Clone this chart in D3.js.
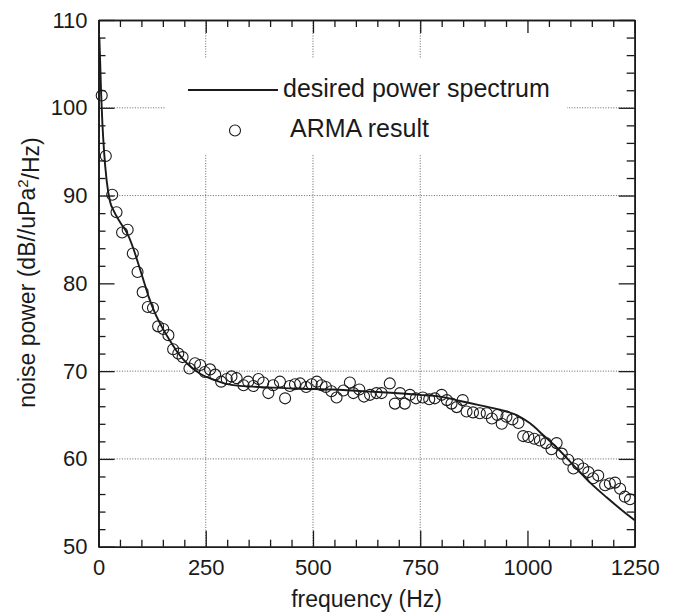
<!DOCTYPE html>
<html>
<head>
<meta charset="utf-8">
<script src="https://cdn.jsdelivr.net/npm/d3@7"></script>
<style>
  html, body { margin: 0; padding: 0; background: #fff; }
  svg { display: block; }
  text { font-family: "Liberation Sans", Arial, Helvetica, sans-serif; fill: #1a1a1a; }
</style>
</head>
<body>
<svg id="chart" width="679" height="614"></svg>
<script>
// ---- data ----
const armaFreq = [7.5,17,32,42,55,68,80,91,103,115,127,139,151,163,174,186,196,212,225,237,248,260,272,286,299,310,322,338,349,361,373,384,396,407,423,435,446,458,470,484,497,509,520,530,543,555,571,586,594,608,619,633,648,660,679,691,703,714,726,740,756,771,784,800,812,823,835,849,858,873,889,905,917,930,940,951,965,979,990,1002,1016,1029,1043,1056,1068,1080,1095,1107,1118,1130,1142,1153,1165,1181,1192,1204,1216,1227,1239];
const armaPower = [101.4,94.5,90.1,88.1,85.8,86.1,83.4,81.3,79.0,77.3,77.2,75.1,74.8,74.1,72.5,72.0,71.6,70.3,70.9,70.7,69.9,70.2,69.6,68.8,69.1,69.4,69.2,68.4,68.8,68.3,69.1,68.7,67.5,68.4,68.8,66.9,68.3,68.5,68.6,68.2,68.5,68.8,68.4,68.2,67.7,67.0,67.8,68.7,67.5,67.9,67.1,67.3,67.5,67.5,68.6,66.3,67.5,66.3,67.3,66.9,67.0,66.8,66.9,67.3,66.7,66.3,65.9,66.7,65.4,65.3,65.2,65.2,64.6,65.0,64.0,64.8,64.5,64.1,62.6,62.5,62.3,62.1,61.8,61.1,61.8,60.6,59.9,58.9,59.4,58.9,58.5,57.8,58.1,57.0,57.2,57.3,56.6,55.7,55.4];

const desiredFreq = [2,4,6,9,13,19,27,35,50,69,81,93,104,116,130,147,165,182,206,237,276,314,392,470,547,640,749,797,843,890,936,975,1006,1037,1068,1107,1146,1185,1224,1250];
const desiredPower = [108,105,101.8,98.3,95.0,91.7,89.3,88.3,87.0,85.5,84.0,82.2,80.5,78.6,76.8,75.1,73.6,72.3,70.9,69.7,68.9,68.4,68.15,68.0,67.9,67.65,67.3,67.1,66.6,66.1,65.6,65.0,64.05,62.7,61.3,59.3,57.3,55.6,54.0,53.0];

const xMajorTicks = [0,250,500,750,1000,1250];
const xMinorTicks = [50,100,150,200,300,350,400,450,550,600,650,700,800,850,900,950,1050,1100,1150,1200];
const yMajorTicks = [50,60,70,80,90,100,110];
const yMinorTicks = [52,54,56,58,62,64,66,68,72,74,76,78,82,84,86,88,92,94,96,98,102,104,106,108];
const xGrid = [250,500,750];
const yGrid = [60,70,90,100];

const legendLabels = ["desired power spectrum", "ARMA result"];
const xTitle = "frequency (Hz)";

// ---- layout ----
const svg = d3.select("#chart");
const L = 98.5, R = 634.7, T = 20, B = 546.7;
const x = d3.scaleLinear().domain([0,1250]).range([L,R]);
const y = d3.scaleLinear().domain([50,110]).range([B,T]);
const ink = "#1a1a1a";

// grid
const grid = svg.append("g").attr("stroke","#555").attr("stroke-width",0.9).attr("stroke-dasharray","1,1.6");
grid.selectAll(".gx").data(xGrid).join("line")
  .attr("x1",d=>x(d)).attr("x2",d=>x(d)).attr("y1",T).attr("y2",B);
grid.selectAll(".gy").data(yGrid).join("line")
  .attr("x1",L).attr("x2",R).attr("y1",d=>y(d)).attr("y2",d=>y(d));

// legend background
svg.append("rect").attr("x",165).attr("y",58).attr("width",402).attr("height",97).attr("fill","#fff");

// axes
function styleAxis(g){
  g.selectAll("path.domain").attr("stroke",ink).attr("stroke-width",1.6);
  g.selectAll(".tick line").attr("stroke",ink).attr("stroke-width",1.3);
  g.selectAll(".tick text").attr("fill",ink).style("font-size","22px")
   .style("font-family","'Liberation Sans', Arial, sans-serif");
}
svg.append("g").attr("transform",`translate(0,${B})`)
  .call(d3.axisBottom(x).tickValues(xMajorTicks).tickSize(-16).tickSizeOuter(0).tickPadding(13).tickFormat(d3.format("d")))
  .call(styleAxis);
svg.append("g").attr("transform",`translate(0,${B})`)
  .call(d3.axisBottom(x).tickValues(xMinorTicks).tickSize(-7).tickSizeOuter(0).tickFormat(""))
  .call(styleAxis);
svg.append("g").attr("transform",`translate(0,${T})`)
  .call(d3.axisTop(x).tickValues(xMajorTicks).tickSize(-13).tickSizeOuter(0).tickFormat(""))
  .call(styleAxis);
svg.append("g").attr("transform",`translate(0,${T})`)
  .call(d3.axisTop(x).tickValues(xMinorTicks).tickSize(-7).tickSizeOuter(0).tickFormat(""))
  .call(styleAxis);
svg.append("g").attr("transform",`translate(${L},0)`)
  .call(d3.axisLeft(y).tickValues(yMajorTicks).tickSize(-16).tickSizeOuter(0).tickPadding(11).tickFormat(d3.format("d")))
  .call(styleAxis);
svg.append("g").attr("transform",`translate(${L},0)`)
  .call(d3.axisLeft(y).tickValues(yMinorTicks).tickSize(-7).tickSizeOuter(0).tickFormat(""))
  .call(styleAxis);
svg.append("g").attr("transform",`translate(${R},0)`)
  .call(d3.axisRight(y).tickValues(yMajorTicks).tickSize(-16).tickSizeOuter(0).tickFormat(""))
  .call(styleAxis);
svg.append("g").attr("transform",`translate(${R},0)`)
  .call(d3.axisRight(y).tickValues(yMinorTicks).tickSize(-8).tickSizeOuter(0).tickFormat(""))
  .call(styleAxis);

// desired curve
const curveData = desiredFreq.map((f,i)=>[f,desiredPower[i]]);
svg.append("path").datum(curveData)
  .attr("fill","none").attr("stroke",ink).attr("stroke-width",1.9)
  .attr("d", d3.line().x(d=>x(d[0])).y(d=>y(d[1])).curve(d3.curveMonotoneX));

// ARMA points
const pts = armaFreq.map((f,i)=>[f,armaPower[i]]);
svg.append("g").selectAll("circle").data(pts).join("circle")
  .attr("cx",d=>x(d[0])).attr("cy",d=>y(d[1])).attr("r",5.5)
  .attr("fill","none").attr("stroke",ink).attr("stroke-width",1.1);

// legend
svg.append("line").attr("x1",188).attr("x2",278).attr("y1",90).attr("y2",90)
  .attr("stroke",ink).attr("stroke-width",1.9);
svg.append("text").attr("x",283).attr("y",97).style("font-size","25px").text(legendLabels[0]);
svg.append("circle").attr("cx",235).attr("cy",130.5).attr("r",5.5)
  .attr("fill","none").attr("stroke",ink).attr("stroke-width",1.1);
svg.append("text").attr("x",290).attr("y",137).style("font-size","25px").text(legendLabels[1]);

// axis titles
svg.append("text").attr("x",(L+R)/2).attr("y",607).attr("text-anchor","middle")
  .style("font-size","23px").text(xTitle);
const yt = svg.append("text").attr("transform","translate(35,272.5) rotate(-90)")
  .attr("text-anchor","middle").style("font-size","23px");
yt.append("tspan").text("noise power (dB//uPa");
yt.append("tspan").attr("dy","-0.45em").style("font-size","15px").text("2");
yt.append("tspan").attr("dy","0.45em").text("/Hz)");
</script>
</body>
</html>
